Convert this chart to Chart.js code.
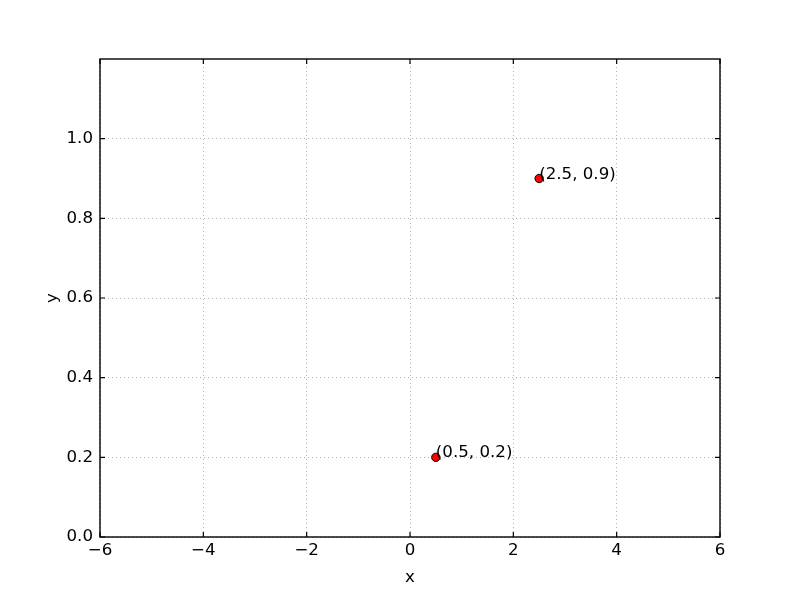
<!DOCTYPE html>
<html>
<head>
<meta charset="utf-8">
<script src="https://cdn.jsdelivr.net/npm/chart.js@4/dist/chart.umd.min.js"></script>
<style>
  html, body { margin: 0; padding: 0; background: #ffffff; }
  #wrap { width: 800px; height: 597px; position: relative; }
</style>
</head>
<body>
<div id="wrap"><canvas id="c" width="800" height="597"></canvas></div>
<script>
// ---- data ----
const pointsX = [2.5, 0.5];
const pointsY = [0.9, 0.2];
const xTicks = [-6, -4, -2, 0, 2, 4, 6];
const yTicks = [0.0, 0.2, 0.4, 0.6, 0.8, 1.0];
const xRange = [-6, 6];
const yRange = [0, 1.2];
const xTitle = 'x';
const yTitle = 'y';

const FONT = 'DejaVu Sans';
const FS = 16.67;

function fmtX(v) { return v < 0 ? '\u2212' + Math.abs(v) : String(v); }
function fmtY(v) { return v.toFixed(1); }

const framePlugin = {
  id: 'frame',
  beforeDatasetsDraw(chart) {
    const {ctx, chartArea: a, scales} = chart;
    ctx.save();
    ctx.strokeStyle = '#000';
    ctx.lineWidth = 1.2;
    const L = 5;
    ctx.beginPath();
    xTicks.forEach(v => {
      const px = scales.x.getPixelForValue(v);
      ctx.moveTo(px, a.bottom); ctx.lineTo(px, a.bottom - L);
      ctx.moveTo(px, a.top); ctx.lineTo(px, a.top + L);
    });
    yTicks.forEach(v => {
      const py = scales.y.getPixelForValue(v);
      ctx.moveTo(a.left, py); ctx.lineTo(a.left + L, py);
      ctx.moveTo(a.right, py); ctx.lineTo(a.right - L, py);
    });
    ctx.stroke();
    ctx.lineWidth = 1.4;
    ctx.strokeRect(a.left, a.top, a.right - a.left, a.bottom - a.top);
    ctx.restore();
  },
  afterDatasetsDraw(chart) {
    const {ctx, scales} = chart;
    ctx.save();
    ctx.fillStyle = '#000';
    ctx.font = FS + 'px "' + FONT + '"';
    ctx.textAlign = 'left';
    ctx.textBaseline = 'alphabetic';
    pointsX.forEach((x, i) => {
      const y = pointsY[i];
      const px = scales.x.getPixelForValue(x);
      const py = scales.y.getPixelForValue(y);
      ctx.fillText('(' + x + ', ' + y + ')', px, py);
    });
    ctx.restore();
  }
};

new Chart(document.getElementById('c'), {
  type: 'scatter',
  data: {
    datasets: [{
      data: pointsX.map((x, i) => ({x: x, y: pointsY[i]})),
      backgroundColor: '#ff0000',
      borderColor: '#000000',
      borderWidth: 1,
      pointRadius: 4.2,
      pointHoverRadius: 4.2
    }]
  },
  options: {
    responsive: false,
    animation: false,
    devicePixelRatio: 1,
    layout: { padding: { left: 0, top: 59, right: 80, bottom: 0 } },
    plugins: { legend: { display: false }, tooltip: { enabled: false } },
    scales: {
      x: {
        type: 'linear',
        min: xRange[0], max: xRange[1],
        afterBuildTicks(s) { s.ticks = xTicks.map(v => ({value: v})); },
        afterFit(s) { s.height = 60; },
        ticks: {
          color: '#000', padding: 4, maxRotation: 0, autoSkip: false,
          font: { family: FONT, size: FS },
          callback: v => fmtX(v)
        },
        grid: { color: '#b0b0b0', lineWidth: 1, drawTicks: false },
        border: { display: false, dash: [1, 3] },
        title: {
          display: true, text: xTitle, color: '#000',
          font: { family: FONT, size: FS },
          padding: { top: 0, bottom: 9 }
        }
      },
      y: {
        type: 'linear',
        min: yRange[0], max: yRange[1],
        afterBuildTicks(s) { s.ticks = yTicks.map(v => ({value: v})); },
        afterFit(s) { s.width = 100; },
        ticks: {
          color: '#000', padding: 7, autoSkip: false,
          font: { family: FONT, size: FS },
          callback: v => fmtY(v)
        },
        grid: { color: '#b0b0b0', lineWidth: 1, drawTicks: false },
        border: { display: false, dash: [1, 3] },
        title: {
          display: true, text: yTitle, color: '#000',
          font: { family: FONT, size: FS },
          padding: { top: 43, bottom: 0 }
        }
      }
    }
  },
  plugins: [framePlugin]
});
</script>
</body>
</html>
